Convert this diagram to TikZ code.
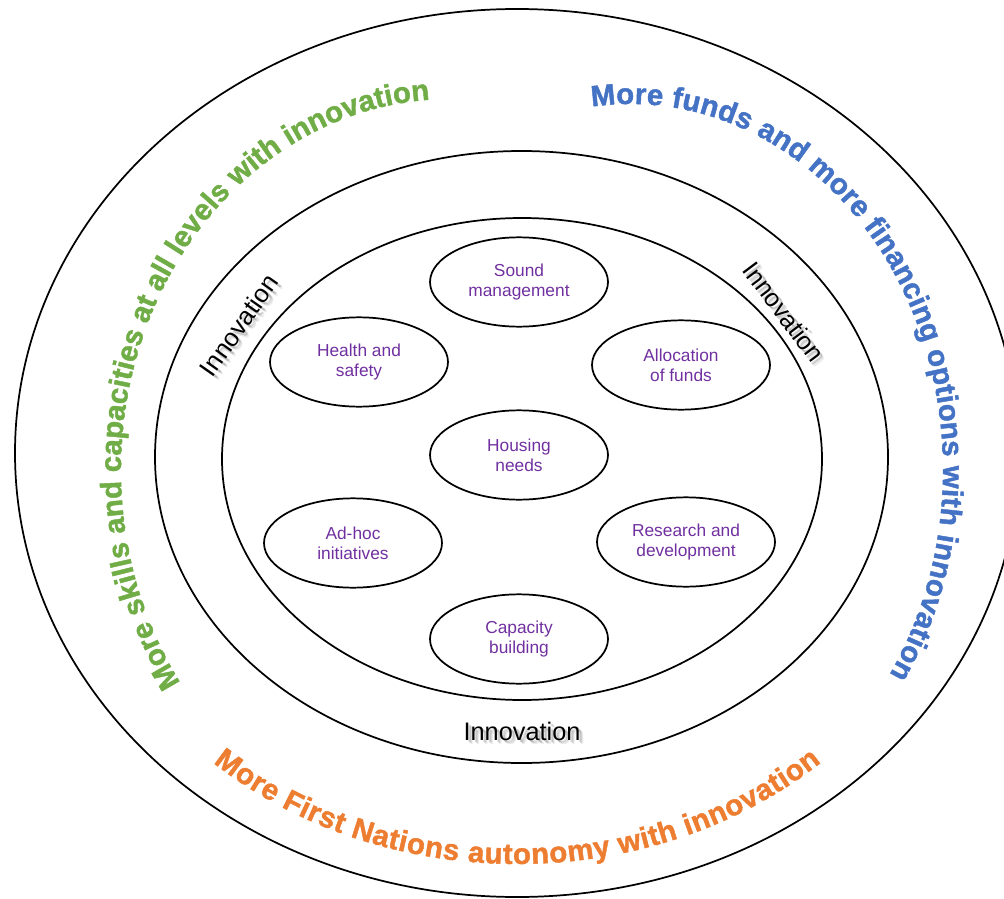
\documentclass[tikz,border=0pt]{standalone}
\usepackage{fontspec}
\setmainfont{Liberation Sans}
\newfontfamily\grasCourbe{Liberation Sans}[UprightFont={* Bold}, UprightFeatures={FakeBold=1.5}]
\usetikzlibrary{shapes.geometric,decorations.text}

\definecolor{vertTexte}{HTML}{70AD47}
\definecolor{bleuTexte}{HTML}{4472C4}
\definecolor{orangeTexte}{HTML}{ED7D31}
\definecolor{violetTexte}{HTML}{7030A0}

\newcommand\Innovation[4]{
  \node[innov, text=black, opacity=.07] (#1-flou) at (#2+4.5,#3-4.5) {Innovation};
  \node[innov, text=black, opacity=.1] (#1-ombre) at (#2+3.5,#3-3) {Innovation};
  \node[innov, text=black, opacity=.12] (#1-halo) at (#2+2.5,#3-2.5) {Innovation};
  \node[innov] (#1) at (#2,#3) {Innovation};
}
\newcommand\TexteCourbe[7]{
  \path[decorate, decoration={text along path, text align=fit to path,
      text={|\fontsize{22}{24}\grasCourbe\color{#1}|#7}}]
    (#2) ++(#5:#3 and #4) arc [start angle=#5, end angle=#6, x radius=#3, y radius=#4];
}

\begin{document}
\begin{tikzpicture}[x=0.75pt, y=0.75pt, line width=1.3pt,
    bulle/.style={ellipse, draw, line width=1.3pt, minimum width=133.5pt,
      minimum height=67pt, inner sep=0pt, align=center, text=violetTexte,
      font=\fontsize{13}{15}\selectfont},
    innov/.style={rotate=#1, font=\fontsize{19}{22}\selectfont}, innov/.default=0]
  \useasboundingbox (0,0) rectangle (1004,-899);
  \clip (0,0) rectangle (1004,-899);

  \draw (517,-453) ellipse [x radius=502, y radius=444];
  \draw (521.5,-457) ellipse [x radius=366.5, y radius=306];
  \draw (522,-459) ellipse [x radius=300, y radius=241];

  \node[bulle] (gestion) at (519,-282) {Sound\\management};
  \node[bulle] (sante) at (359,-362) {Health and\\safety};
  \node[bulle] (fonds) at (681,-365) {Allocation\\of funds};
  \node[bulle] (logement) at (519,-455) {Housing\\needs};
  \node[bulle] (adhoc) at (353,-543) {Ad-hoc\\initiatives};
  \node[bulle] (recherche) at (686,-542) {Research and\\development};
  \node[bulle] (capacite) at (519,-639) {Capacity\\building};

  \begin{scope}[innov/.default=55]
    \Innovation{innovGauche}{239}{-325}{}
  \end{scope}
  \begin{scope}[innov/.default=-53]
    \Innovation{innovDroite}{784}{-312}{}
  \end{scope}
  \Innovation{innovBas}{522}{-731}{}

  \coordinate (centreVert) at (450,-470);
  \coordinate (centreBleu) at (630,-470);
  \coordinate (centreOrange) at (517,-470);
  \TexteCourbe{vertTexte}{centreVert}{329}{371}{215}{93.5}{More skills and capacities at all levels with innovation}
  \TexteCourbe{bleuTexte}{centreBleu}{313}{366}{97}{-34}{More funds and more financing options with innovation}
  \TexteCourbe{orangeTexte}{centreOrange}{454}{394}{228}{312}{More First Nations autonomy with innovation}
\end{tikzpicture}
\end{document}
